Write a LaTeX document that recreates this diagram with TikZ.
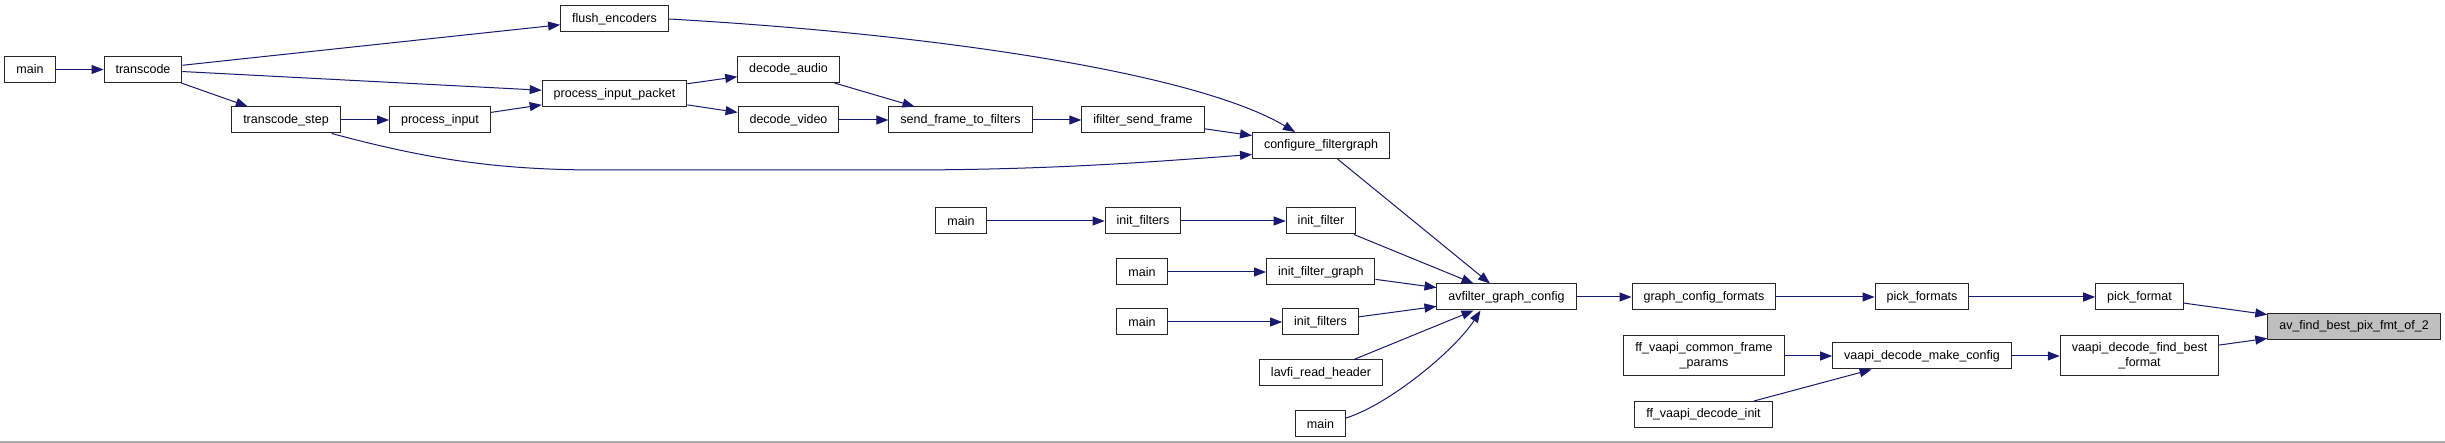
\documentclass[tikz,border=0pt]{standalone}
\usepackage{fontspec}
\setmainfont{Liberation Sans}
\usetikzlibrary{arrows.meta}
\definecolor{edgeblue}{HTML}{191970}
\definecolor{hilite}{HTML}{BFBFBF}
\begin{document}
\begin{tikzpicture}[x=1pt,y=-1pt,font=\fontsize{12.5}{15}\selectfont,
	fn/.style={draw=black!85,line width=1pt,fill=white,minimum height=26pt,inner xsep=11.5pt,inner ysep=4pt,align=center},
	tall/.style={minimum height=40pt},
	call/.style={->,>={Triangle[length=12pt,width=9pt]},draw=edgeblue,line width=1pt}]
	\useasboundingbox (0,0) rectangle (2445,443);
	\fill[white] (0,0) rectangle (2445,443);
	\draw[black!33,line width=1.5pt] (0,442)--(2445,442);
	\node[fn] (mainT) at (30,69.5) {main};
	\node[fn] (transcode) at (143,69.5) {transcode};
	\node[fn] (flush) at (614.5,19) {flush\_encoders};
	\node[fn] (pip) at (614.5,94) {process\_input\_packet};
	\node[fn] (tstep) at (286,120) {transcode\_step};
	\node[fn] (pinput) at (440,120) {process\_input};
	\node[fn] (daudio) at (788.5,69.5) {decode\_audio};
	\node[fn] (dvideo) at (788.5,120) {decode\_video};
	\node[fn] (sftf) at (960.5,120) {send\_frame\_to\_filters};
	\node[fn] (ifsf) at (1143,120) {ifilter\_send\_frame};
	\node[fn] (cfg) at (1321,145.5) {configure\_filtergraph};
	\node[fn] (mainA) at (961,221) {main};
	\node[fn] (initfsA) at (1143,221) {init\_filters};
	\node[fn] (initf) at (1321,221) {init\_filter};
	\node[fn] (mainB) at (1142,272) {main};
	\node[fn] (ifg) at (1320.75,272) {init\_filter\_graph};
	\node[fn] (agc) at (1506.5,297) {avfilter\_graph\_config};
	\node[fn] (mainC) at (1142,322) {main};
	\node[fn] (initfsB) at (1320.5,322) {init\_filters};
	\node[fn] (lavfi) at (1321,373) {lavfi\_read\_header};
	\node[fn] (mainD) at (1320.5,424) {main};
	\node[fn] (gcf) at (1704,297) {graph\_config\_formats};
	\node[fn] (pfs) at (1922,297) {pick\_formats};
	\node[fn] (pf) at (2139.5,297) {pick\_format};
	\node[fn,fill=hilite] (avf) at (2354,326.5) {av\_find\_best\_pix\_fmt\_of\_2};
	\node[fn,tall] (ffcfp) at (1704,356) {ff\_vaapi\_common\_frame\\\_params};
	\node[fn] (vdmc) at (1922,356) {vaapi\_decode\_make\_config};
	\node[fn,tall] (vdfbf) at (2139.5,356) {vaapi\_decode\_find\_best\\\_format};
	\node[fn] (ffvdi) at (1703.5,414.5) {ff\_vaapi\_decode\_init};
	\draw[call] (mainT)--(transcode);
	\draw[call] (transcode)--(flush);
	\draw[call] (transcode)--(pip);
	\draw[call] (transcode)--(tstep);
	\draw[call] (tstep)--(pinput);
	\draw[call] (pinput)--(pip);
	\draw[call] (pip)--(daudio);
	\draw[call] (pip)--(dvideo);
	\draw[call] (daudio)--(sftf);
	\draw[call] (dvideo)--(sftf);
	\draw[call] (sftf)--(ifsf);
	\draw[call] (ifsf)--(cfg);
	\draw[call] (flush.east) .. controls (950,35) and (1200,75) .. ([xshift=-26pt]cfg.north);
	\draw[call] ([xshift=-9pt]tstep.south east) .. controls (430,160) and (500,170) .. (600,170)--(900,170) .. controls (1050,170) and (1150,162) .. ([yshift=-9pt]cfg.west);
	\draw[call] (cfg)--(agc);
	\draw[call] (mainA)--(initfsA);
	\draw[call] (initfsA)--(initf);
	\draw[call] (initf)--(agc);
	\draw[call] (mainB)--(ifg);
	\draw[call] (ifg)--(agc);
	\draw[call] (mainC)--(initfsB);
	\draw[call] (initfsB)--(agc);
	\draw[call] (lavfi)--(agc);
	\draw[call] ([yshift=6pt]mainD.east) .. controls (1390,404) and (1455,350) .. ([xshift=-26pt]agc.south);
	\draw[call] (agc)--(gcf);
	\draw[call] (gcf)--(pfs);
	\draw[call] (pfs)--(pf);
	\draw[call] (pf)--(avf);
	\draw[call] (ffcfp)--(vdmc);
	\draw[call] (ffvdi)--(vdmc);
	\draw[call] (vdmc)--(vdfbf);
	\draw[call] (vdfbf)--(avf);
\end{tikzpicture}
\end{document}
